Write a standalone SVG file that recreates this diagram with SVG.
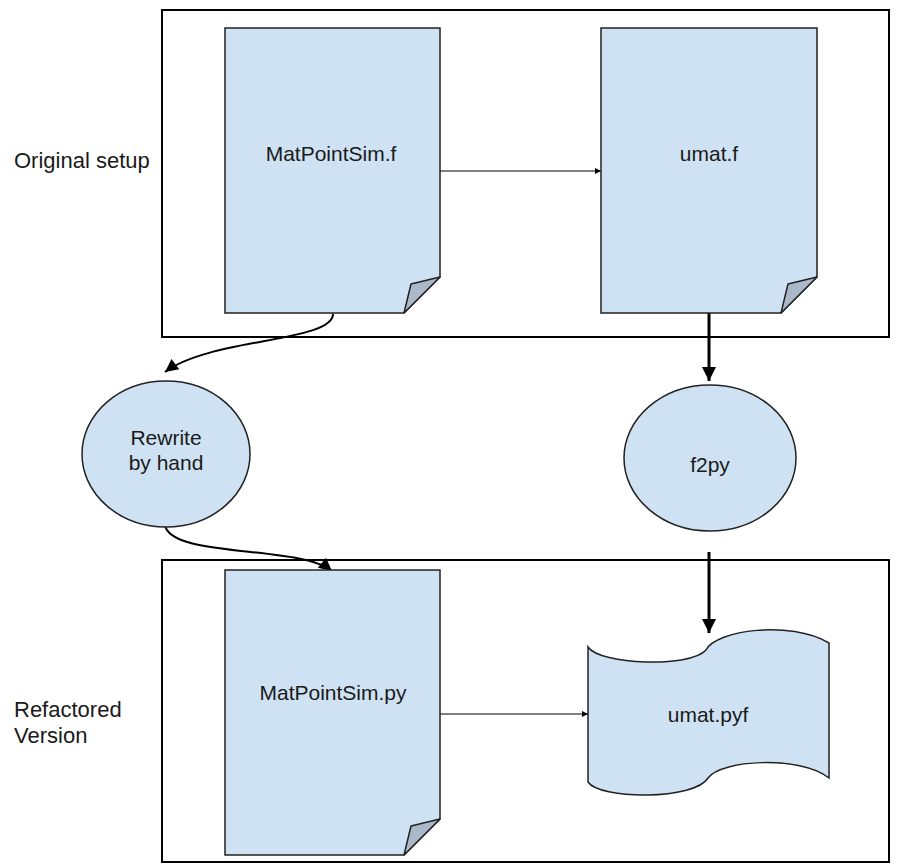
<svg xmlns="http://www.w3.org/2000/svg" width="899" height="867" viewBox="0 0 899 867">
<style>
  text { font-family: "Liberation Sans", Arial, sans-serif; font-size: 21px; fill: #1a1a1a; }
  .side { font-size: 22px; }
  .ctr { text-anchor: middle; }
  .box { fill: none; stroke: #000; stroke-width: 2; }
  .shape { fill: #cfe2f3; stroke: #222; stroke-width: 1.5; }
  .fold { fill: #a9b9c9; stroke: #222; stroke-width: 1.5; stroke-linejoin: round; }
  .thin { fill: none; stroke: #000; stroke-width: 1; }
  .thick { fill: none; stroke: #000; stroke-width: 3; }
  .mid { fill: none; stroke: #000; stroke-width: 2; }
</style>
<defs>
  <marker id="aSmall" viewBox="0 0 10 10" refX="10" refY="5" markerWidth="8" markerHeight="6" markerUnits="userSpaceOnUse" orient="auto">
    <path d="M0,0 L10,5 L0,10 z" fill="#000"/>
  </marker>
  <marker id="aBig" viewBox="0 0 10 10" refX="10" refY="5" markerWidth="20" markerHeight="14" markerUnits="userSpaceOnUse" orient="auto">
    <path d="M0,0 L10,5 L0,10 z" fill="#000"/>
  </marker>
  <marker id="aMid" viewBox="0 0 10 10" refX="10" refY="5" markerWidth="17" markerHeight="13" markerUnits="userSpaceOnUse" orient="auto">
    <path d="M0,0 L10,5 L0,10 z" fill="#000"/>
  </marker>
</defs>

<g id="container-original">
  <rect class="box" x="162" y="10" width="727" height="327"/>
  <text class="side" x="14" y="168">Original setup</text>
</g>
<g id="container-refactored">
  <rect class="box" x="162" y="560" width="727" height="302"/>
  <text class="side" x="14" y="717">Refactored</text>
  <text class="side" x="14" y="743">Version</text>
</g>

<g id="connectors">
  <line class="thin" x1="440" y1="171" x2="601" y2="171" marker-end="url(#aSmall)"/>
  <line class="thin" x1="440" y1="714" x2="588" y2="714" marker-end="url(#aSmall)"/>
  <line class="thick" x1="709" y1="313" x2="709" y2="381" marker-end="url(#aBig)"/>
  <line class="thick" x1="709" y1="552" x2="709" y2="633" marker-end="url(#aBig)"/>
  <path class="mid" d="M333,314 C333,342 210,338 165,372" marker-end="url(#aMid)"/>
  <path class="mid" d="M165,525 C170,558 300,545 332,571" marker-end="url(#aMid)"/>
</g>

<g id="node-matpointsim-f">
  <path class="shape" d="M225,28 H440 V277 L404,313 H225 Z"/>
  <path class="fold" d="M440,277 L411,284 L404,313 Z"/>
  <text class="ctr" x="331" y="161">MatPointSim.f</text>
</g>
<g id="node-umat-f">
  <path class="shape" d="M601,28 H817 V277 L781,313 H601 Z"/>
  <path class="fold" d="M817,277 L788,284 L781,313 Z"/>
  <text class="ctr" x="709" y="161">umat.f</text>
</g>
<g id="node-rewrite">
  <ellipse class="shape" cx="166" cy="454" rx="84" ry="73"/>
  <text class="ctr" x="166" y="445">Rewrite</text>
  <text class="ctr" x="166" y="470">by hand</text>
</g>
<g id="node-f2py">
  <ellipse class="shape" cx="710" cy="458" rx="86" ry="73"/>
  <text class="ctr" x="710" y="472">f2py</text>
</g>
<g id="node-matpointsim-py">
  <path class="shape" d="M225,570 H440 V819 L404,855 H225 Z"/>
  <path class="fold" d="M440,819 L411,826 L404,855 Z"/>
  <text class="ctr" x="333" y="700">MatPointSim.py</text>
</g>
<g id="node-umat-pyf">
  <path class="shape" d="M588,647 C600,665 690,668 706,650 C716,630 790,620 829,643 V778 C800,755 720,760 708,778 C695,800 600,800 588,782 Z"/>
  <text class="ctr" x="708" y="722">umat.pyf</text>
</g>
</svg>
